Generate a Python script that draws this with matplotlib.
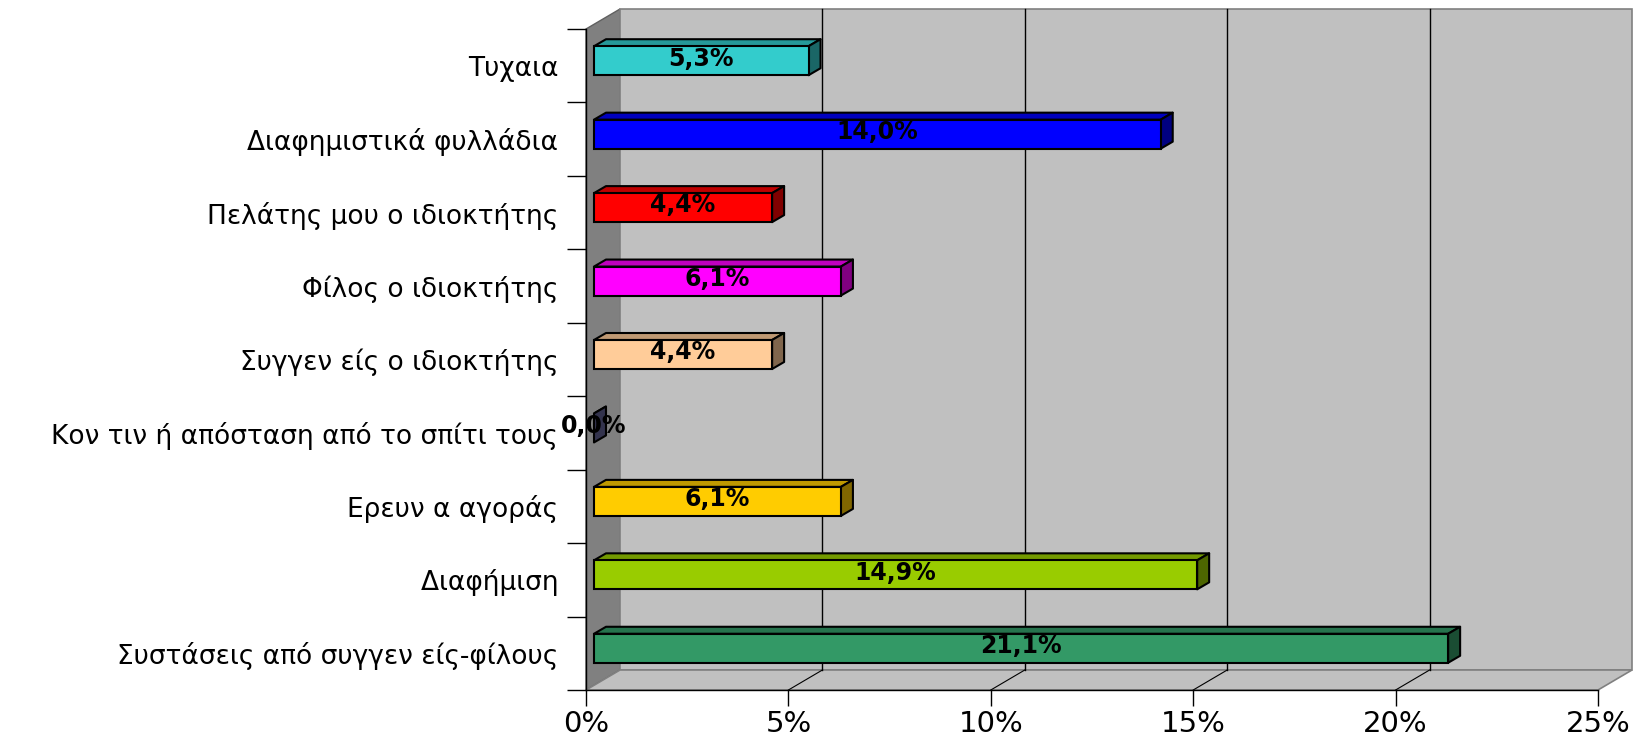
import matplotlib
matplotlib.use("Agg")
import matplotlib.pyplot as plt
from matplotlib.patches import Polygon, Rectangle
from matplotlib.colors import to_rgb

plt.rcParams['font.family'] = ['DejaVu Sans']

# Categories listed top to bottom
categories = [
    "Τυχαια",
    "Διαφημιστικά φυλλάδια",
    "Πελάτης μου ο ιδιοκτήτης",
    "Φίλος ο ιδιοκτήτης",
    "Συγγεν είς ο ιδιοκτήτης",
    "Κον τιν ή απόσταση από το σπίτι τους",
    "Ερευν α αγοράς",
    "Διαφήμιση",
    "Συστάσεις από συγγεν είς-φίλους",
]
values = [5.3, 14.0, 4.4, 6.1, 4.4, 0.0, 6.1, 14.9, 21.1]
colors = ["#33CCCC", "#0000FF", "#FF0000", "#FF00FF", "#FFCC99",
          "#666699", "#FFCC00", "#99CC00", "#339966"]
x_ticks = [0, 5, 10, 15, 20, 25]
x_tick_labels = ["0%", "5%", "10%", "15%", "20%", "25%"]

# bottom-up order for plotting
cats = categories[::-1]
vals = values[::-1]
cols = colors[::-1]
n = len(cats)

W, H = 1643, 742
fig = plt.figure(figsize=(W / 100, H / 100), dpi=100)
ax = fig.add_axes([586 / W, (H - 690) / H, (1598 - 586) / W, (690 - 29) / H])
xmax = 25
ax.set_xlim(0, xmax)
ax.set_ylim(-0.5, n - 0.5)

# pseudo-3D depth (in data units)
px_x = (1598 - 586) / xmax
px_y = (690 - 29) / n
dxf, dyf = 34 / px_x, 20 / px_y          # full depth of the plot box
box_dx, box_dy = 8 / px_x, 5 / px_y       # bar front offset into the box
bdx, bdy = 12 / px_x, 7 / px_y            # bar depth
bh = 29 / px_y                            # bar height

wall_edge = "#808080"
ylo, yhi = -0.5, n - 0.5
# left wall
ax.add_patch(Polygon([(0, ylo), (dxf, ylo + dyf), (dxf, yhi + dyf), (0, yhi)],
                     closed=True, facecolor="#808080", edgecolor="#606060",
                     lw=1, clip_on=False, zorder=0))
# back wall
ax.add_patch(Rectangle((dxf, ylo + dyf), xmax, yhi - ylo, facecolor="#C0C0C0",
                       edgecolor=wall_edge, lw=1.2, clip_on=False, zorder=0))
# floor
ax.add_patch(Polygon([(0, ylo), (xmax, ylo), (xmax + dxf, ylo + dyf), (dxf, ylo + dyf)],
                     closed=True, facecolor="#C0C0C0", edgecolor=wall_edge,
                     lw=1.2, clip_on=False, zorder=0))

# gridlines on back wall and floor
for v in x_ticks[1:-1]:
    ax.plot([v + dxf, v + dxf], [ylo + dyf, yhi + dyf], color="black", lw=1,
            clip_on=False, zorder=1)
    ax.plot([v, v + dxf], [ylo, ylo + dyf], color="black", lw=0.8,
            clip_on=False, zorder=1)


def shade(c, f):
    r, g, b = to_rgb(c)
    return (r * f, g * f, b * f)


for i, (v, c) in enumerate(zip(vals, cols)):
    x0 = box_dx
    yb = i - bh / 2 + box_dy
    yt = yb + bh
    # top face
    ax.add_patch(Polygon([(x0, yt), (x0 + v, yt), (x0 + v + bdx, yt + bdy), (x0 + bdx, yt + bdy)],
                         closed=True, facecolor=shade(c, 0.75), edgecolor="black",
                         lw=1.5, clip_on=False, zorder=3, joinstyle="round"))
    # side face
    ax.add_patch(Polygon([(x0 + v, yb), (x0 + v + bdx, yb + bdy), (x0 + v + bdx, yt + bdy), (x0 + v, yt)],
                         closed=True, facecolor=shade(c, 0.5), edgecolor="black",
                         lw=1.5, clip_on=False, zorder=3, joinstyle="round"))
    # front face
    if v > 0:
        ax.add_patch(Rectangle((x0, yb), v, bh, facecolor=c, edgecolor="black",
                               lw=1.5, clip_on=False, zorder=4))
    label = f"{v:.1f}%".replace(".", ",")
    ax.text(x0 + v / 2, i + box_dy + 0.03, label, ha="center", va="center",
            fontsize=17, fontweight="bold", color="black", zorder=6)

# axes styling
for s in ["top", "right"]:
    ax.spines[s].set_visible(False)
ax.spines["left"].set_color("black")
ax.spines["bottom"].set_color("black")
ax.spines["left"].set_linewidth(1)
ax.spines["bottom"].set_linewidth(1)
ax.spines["left"].set_zorder(2)
ax.spines["bottom"].set_zorder(2)
ax.set_facecolor("none")

ax.set_xticks(x_ticks)
ax.set_xticklabels(x_tick_labels, fontsize=21)
ax.tick_params(axis="x", direction="out", length=11.5, width=1, pad=3)

ax.set_yticks([k - 0.5 for k in range(n + 1)])
ax.set_yticklabels([])
ax.set_yticks(range(n), minor=True)
ax.set_yticklabels([c + " " for c in cats], minor=True, fontsize=19)
ax.tick_params(axis="y", which="minor", length=0, pad=14)
ax.tick_params(axis="y", which="major", direction="out", length=13.7, width=1)

fig.savefig("out.png", dpi=100, facecolor="white")
